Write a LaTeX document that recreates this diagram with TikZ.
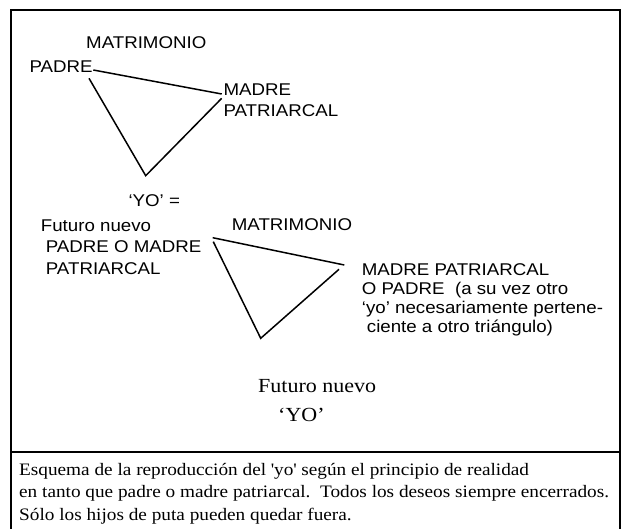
\documentclass[tikz,border=0pt]{standalone}
\usepackage{fontspec}
\setmainfont{Liberation Serif}[FakeStretch=1.1]
\newfontfamily\arialsf{Liberation Sans}[FakeStretch=1.1]
\usepackage{tikz}
\usetikzlibrary{positioning}

\begin{document}
\begin{tikzpicture}[x=1pt, y=-1pt,
    lbl/.style={anchor=base west, inner sep=0pt, align=left, font=\arialsf\fontsize{17}{21.5}\selectfont},
    lbltwo/.style={lbl, font=\arialsf\fontsize{17}{19}\selectfont},
    captext/.style={anchor=base west, inner sep=0pt, font=\fontsize{17.5}{22}\selectfont},
    bigtext/.style={anchor=base west, inner sep=0pt, font=\fontsize{20}{24}\selectfont},
    side/.style={line width=1.5pt},
    frame/.style={line width=2pt}]

    \useasboundingbox (0,0) rectangle (628,529);

    % Frame
    \draw[frame] (11,529) -- (11,10) -- (620,10) -- (620,529);
    \draw[frame] (11,452) -- (620,452);

    % Nodes, first triangle (multi-line nodes sit on their last line)
    \node[lbl] at (86,49) (matri) {MATRIMONIO};
    \node[lbl] at (29.3,72.7) (padre) {PADRE};
    \node[lbl] at (223.3,116.7) (madre) {MADRE\\PATRIARCAL};
    \coordinate (a1) at (93.3,70);
    \coordinate (a2) at (221.7,94);
    \coordinate (a3) at (89,78.3);
    \coordinate (a4) at (145.7,175.7);
    \coordinate (a5) at (221.7,98.3);

    % Nodes, second triangle
    \node[lbl] at (128.3,206.7) (yo) {‘YO’ =};
    \node[lbl] at (40.7,274) (futuro) {Futuro nuevo\\\hspace{5pt}PADRE O MADRE\\\hspace{5pt}PATRIARCAL};
    \node[lbl] at (231.7,230) (matritwo) {MATRIMONIO};
    \node[lbltwo] at (361.7,332) (madretwo) {MADRE PATRIARCAL\\O PADRE\ \ (a su vez otro\\‘yo’ necesariamente pertene-\\\hspace{5pt}ciente a otro triángulo)};
    \coordinate (b1) at (212.7,237.7);
    \coordinate (b2) at (344.3,265);
    \coordinate (b3) at (213.3,241.7);
    \coordinate (b4) at (260.7,338.3);
    \coordinate (b5) at (339,269.3);

    \node[bigtext] at (258,392) (nuevoyo) {Futuro nuevo};
    \node[bigtext] at (278,421) (yotwo) {‘YO’};

    % Caption
    \node[captext] at (19,475) (capone) {Esquema de la reproducción del \textquotesingle yo\textquotesingle{} según el principio de realidad};
    \node[captext] at (19,497) (captwo) {en tanto que padre o madre patriarcal.\ \ Todos los deseos siempre encerrados.};
    \node[captext] at (19,520) (capthree) {Sólo los hijos de puta pueden quedar fuera.};

    % Lines
    \draw[side] (a1) -- (a2);
    \draw[side] (a3) -- (a4) -- (a5);
    \draw[side] (b1) -- (b2);
    \draw[side] (b3) -- (b4) -- (b5);

\end{tikzpicture}
\end{document}
